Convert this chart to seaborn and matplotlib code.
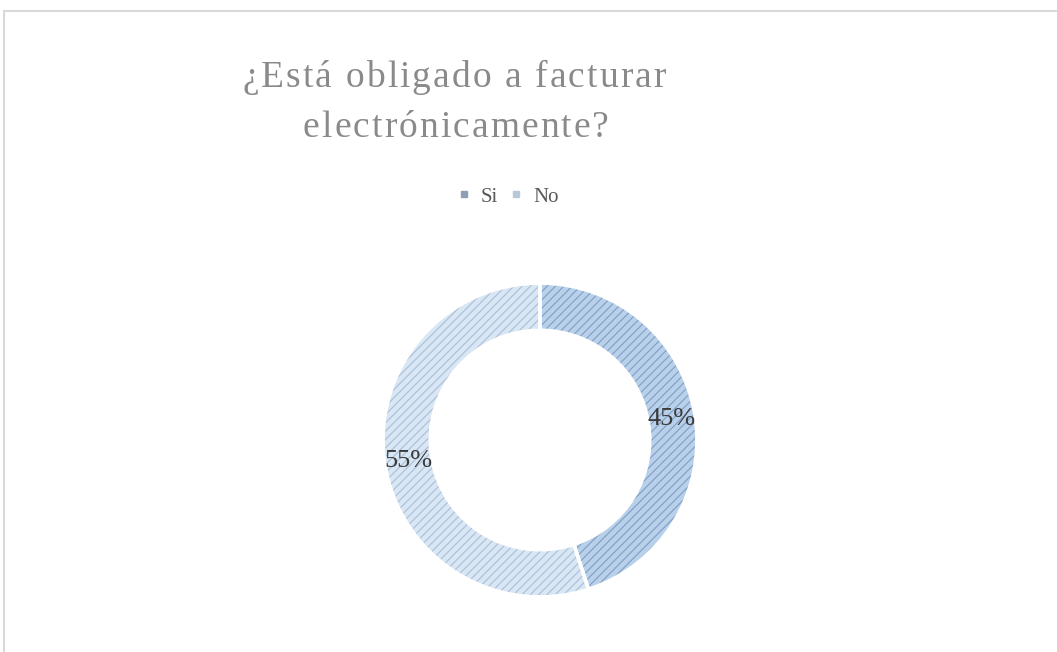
import matplotlib
matplotlib.use("Agg")
import matplotlib.pyplot as plt
import seaborn as sns
from matplotlib.lines import Line2D
from matplotlib.font_manager import FontProperties

# Data
categories = ["Si", "No"]
values = [45, 55]
title_lines = ["¿Está obligado a facturar", "electrónicamente?"]

sns.set_theme(style="white")
plt.rcParams['font.family'] = ['Liberation Serif', 'DejaVu Serif']
plt.rcParams['hatch.linewidth'] = 0.8

face_colors = ["#b8d0ea", "#d9e6f3"]
hatch_colors = ["#7e9ec4", "#a8bfda"]
legend_colors = ["#8c9fb5", "#b9c8d8"]

W, H = 1057, 652
fig = plt.figure(figsize=(W / 100, H / 100), dpi=100)
fig.patch.set_facecolor("white")

# Outer frame lines (chart border)
fig.add_artist(Line2D([4 / W, 4 / W], [0, 1 - 11 / H], color="#d9d9d9", lw=1.5))
fig.add_artist(Line2D([4 / W, 1], [1 - 11 / H, 1 - 11 / H], color="#d9d9d9", lw=1.5))

cx, cy, r = 540, 440, 160
ax = fig.add_axes([(cx - r) / W, (H - cy - r) / H, 2 * r / W, 2 * r / H])

wedges, texts, autotexts = ax.pie(
    values, startangle=90, counterclock=False, radius=1.0,
    colors=face_colors, autopct="%1.0f%%", pctdistance=0.85,
    wedgeprops=dict(width=0.3, linewidth=0),
    textprops=dict(fontsize=19, color="#3a3a3a"))
for w, hc in zip(wedges, hatch_colors):
    w.set_hatch("////")
    w.set_edgecolor(hc)
    w.set_linewidth(0)
# white separators
ax.pie(values, startangle=90, counterclock=False, radius=1.0,
       colors=["none", "none"],
       wedgeprops=dict(width=0.3, linewidth=2.5, edgecolor="white"))
ax.set_xlim(-1.02, 1.02)
ax.set_ylim(-1.02, 1.02)
ax.set_aspect("equal")
ax.axis("off")

# Title with letter spacing
renderer = fig.canvas.get_renderer()
fp = FontProperties(family=['Liberation Serif'], size=27)
tracking = 2.1
def spaced_text(s, xc, ybase):
    widths = [renderer.get_text_width_height_descent(ch, fp, ismath=False)[0] for ch in s]
    total = sum(widths) + tracking * (len(s) - 1)
    x = xc - total / 2
    for ch, w in zip(s, widths):
        fig.text(x / W, 1 - ybase / H, ch, ha="left", va="baseline",
                 fontproperties=fp, color="#8a8a8a")
        x += w + tracking

spaced_text(title_lines[0], 454, 87)
spaced_text(title_lines[1], 456, 137)

# Legend
handles = [Line2D([0], [0], marker="s", linestyle="none", markersize=5,
                  markerfacecolor=c, markeredgecolor=c) for c in legend_colors]
fig.legend(handles, categories, loc="center", bbox_to_anchor=(506 / W, 1 - 197 / H),
           ncol=2, frameon=False, fontsize=15, handletextpad=0.3, columnspacing=0.4,
           handlelength=1.0, labelcolor="#595959")

fig.savefig("out.png", dpi=100)
